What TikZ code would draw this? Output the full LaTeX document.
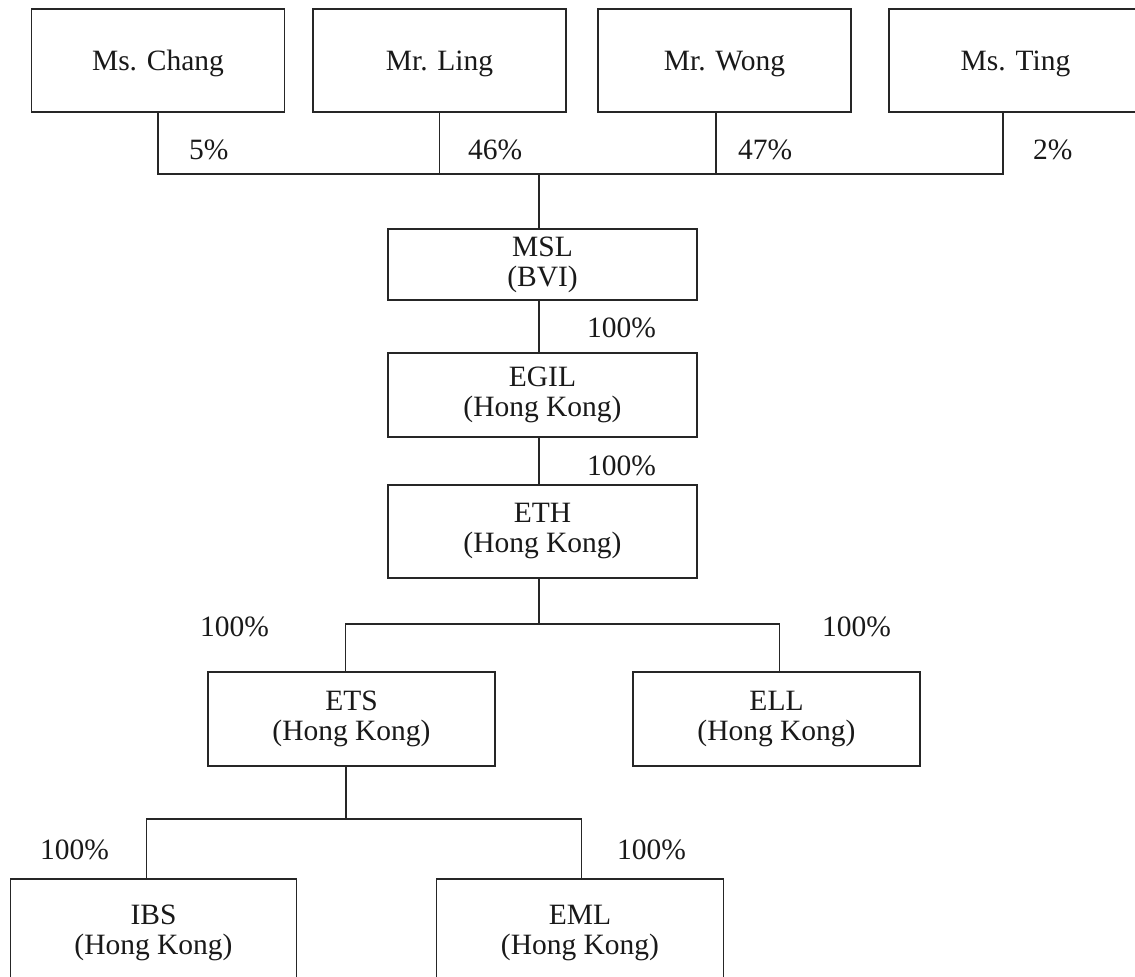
\documentclass[tikz,border=0pt]{standalone}
\usepackage{fontspec}
\setmainfont{Liberation Serif}
\begin{document}
\begin{tikzpicture}[x=1pt,y=-1pt,
  every node/.style={font=\fontsize{29.5}{30}\selectfont, text=black!90},
  box/.style={draw=black!85, line width=1.1pt, inner sep=0pt, align=center},
  topbox/.style={box, minimum width=253pt, minimum height=103pt, text height=20.4pt, text depth=0pt},
  pct/.style={anchor=west, inner sep=0pt},
  conn/.style={draw=black!85, line width=1.1pt}]
\useasboundingbox (0,0) rectangle (1135,977);
\clip (0,0) rectangle (1135,977);
% owners
\node[topbox] (chang) at (158,60.5) {Ms. Chang};
\node[topbox] (ling) at (439.5,60.5) {Mr. Ling};
\node[topbox] (wong) at (724.5,60.5) {Mr. Wong};
\node[topbox] (ting) at (1015.5,60.5) {Ms. Ting};
% companies
\node[box, minimum width=309pt, minimum height=71pt] (msl) at (542.5,264.5) {MSL\\(BVI)};
\node[box, minimum width=309pt, minimum height=84pt] (egil) at (542.5,395) {EGIL\\(Hong Kong)};
\node[box, minimum width=309pt, minimum height=93pt] (eth) at (542.5,531.5) {ETH\\(Hong Kong)};
\node[box, minimum width=287pt, minimum height=94pt] (ets) at (351.5,719) {ETS\\(Hong Kong)};
\node[box, minimum width=287pt, minimum height=94pt] (ell) at (776.5,719) {ELL\\(Hong Kong)};
\node[box, minimum width=286pt, minimum height=108pt] (ibs) at (153.5,933) {IBS\\(Hong Kong)};
\node[box, minimum width=287pt, minimum height=108pt] (eml) at (580,933) {EML\\(Hong Kong)};
% junction points
\coordinate (tb) at (539,174);
\coordinate (wongdrop) at ([xshift=-8.5pt]wong.south);
\coordinate (tingdrop) at ([xshift=-12.5pt]ting.south);
\coordinate (b2) at (539,624);
\coordinate (etsup) at ([xshift=-5.8pt]ets.north);
\coordinate (ellup) at ([xshift=2.8pt]ell.north);
\coordinate (b3) at (346,819);
\coordinate (ibsup) at ([xshift=-6.8pt]ibs.north);
\coordinate (emlup) at ([xshift=1.7pt]eml.north);
% connectors
\draw[conn] (chang.south) -- (chang.south |- tb) -- (tingdrop |- tb) -- (tingdrop);
\draw[conn] (ling.south) -- (ling.south |- tb);
\draw[conn] (wongdrop) -- (wongdrop |- tb);
\draw[conn] (tb) -- (tb |- msl.north);
\draw[conn] (tb |- msl.south) -- (tb |- egil.north);
\draw[conn] (tb |- egil.south) -- (tb |- eth.north);
\draw[conn] (tb |- eth.south) -- (b2);
\draw[conn] (etsup) -- (etsup |- b2) -- (ellup |- b2) -- (ellup);
\draw[conn] (b3 |- ets.south) -- (b3);
\draw[conn] (ibsup) -- (ibsup |- b3) -- (emlup |- b3) -- (emlup);
% percentages
\node[pct] (p1) at (189,150) {5\%};
\node[pct] (p2) at (468,150) {46\%};
\node[pct] (p3) at (738,150) {47\%};
\node[pct] (p4) at (1033,150) {2\%};
\node[pct] (p5) at (587,327.5) {100\%};
\node[pct] (p6) at (587,466) {100\%};
\node[pct] (p7) at (200,627) {100\%};
\node[pct] (p8) at (822,627) {100\%};
\node[pct] (p9) at (40,850) {100\%};
\node[pct] (p10) at (617,850) {100\%};
\end{tikzpicture}
\end{document}
